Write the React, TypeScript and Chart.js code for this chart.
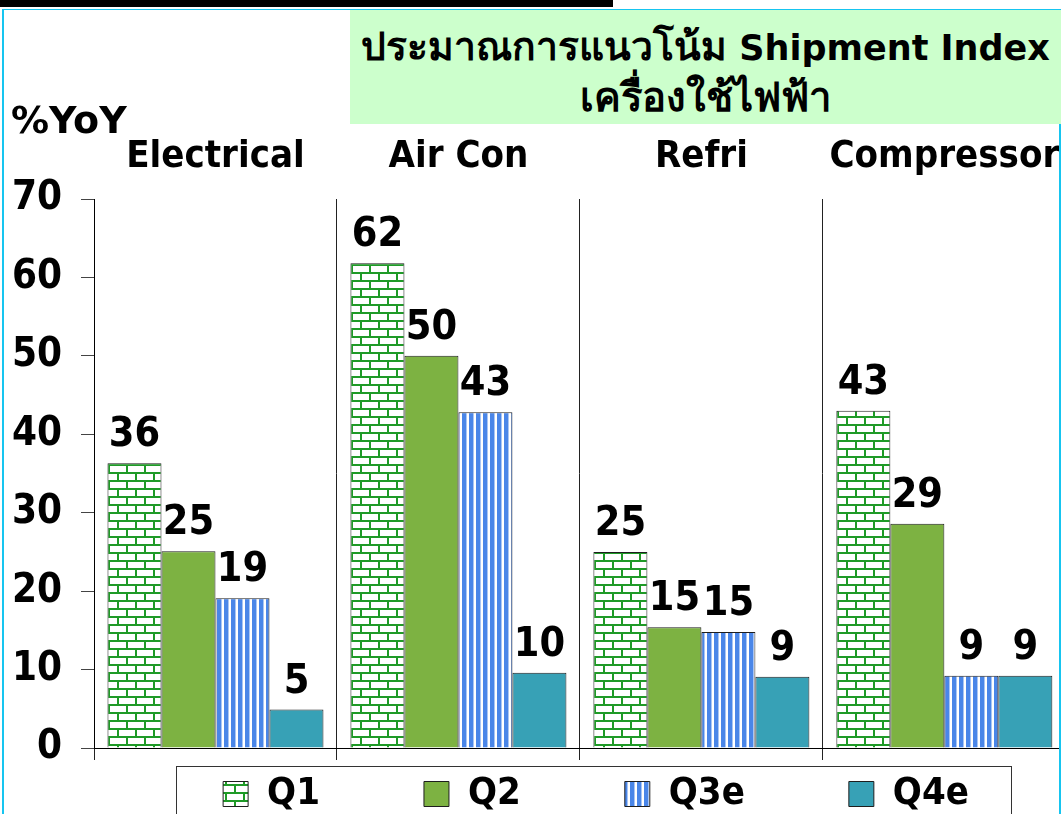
import React, { useEffect, useRef } from 'react';
import { Chart, registerables } from 'chart.js';

Chart.register(...registerables);

// ---------- data ----------
const categories = ['Electrical', 'Air Con', 'Refri', 'Compressor'];
const seriesNames = ['Q1', 'Q2', 'Q3e', 'Q4e'];
const q1Values = [36.3, 61.8, 25.0, 43.0];
const q2Values = [25.1, 50.0, 15.4, 28.6];
const q3eValues = [19.1, 42.8, 14.8, 9.2];
const q4eValues = [4.9, 9.6, 9.1, 9.2];
const yMin = 0;
const yMax = 70;
const yStep = 10;
const titleThai1 = 'ประมาณการแนวโน้ม';
const titleLatin1 = 'Shipment Index';
const titleLine2 = 'เครื่องใช้ไฟฟ้า';
const unitLabel = '%YoY';

// ---------- styling ----------
const FONT = "'DejaVu Sans Condensed', 'DejaVu Sans', sans-serif";
const CANVAS_W = 1080;
const CANVAS_H = 814;
const LEGEND_CENTER = 596;
const LEGEND_ROW_MID = 794;
const LEGEND_PAD = 104;
const LEGEND_FONT = 38;

function brickPattern(ctx: CanvasRenderingContext2D) {
  const c = document.createElement('canvas');
  c.width = 18;
  c.height = 16;
  const g = c.getContext('2d')!;
  g.fillStyle = '#ffffff';
  g.fillRect(0, 0, 18, 16);
  g.fillStyle = '#1f9a27';
  g.fillRect(0, 0, 18, 2);
  g.fillRect(0, 8, 18, 2);
  g.fillRect(0, 0, 2, 8);
  g.fillRect(9, 8, 2, 8);
  return ctx.createPattern(c, 'repeat')!;
}

function stripePattern(ctx: CanvasRenderingContext2D) {
  const c = document.createElement('canvas');
  c.width = 7;
  c.height = 4;
  const g = c.getContext('2d')!;
  g.fillStyle = '#ffffff';
  g.fillRect(0, 0, 7, 4);
  g.fillStyle = '#4a86e8';
  g.fillRect(0, 0, 4, 4);
  g.fillStyle = '#a9c5f3';
  g.fillRect(4, 0, 1, 4);
  return ctx.createPattern(c, 'repeat')!;
}

const valueLabels = {
  id: 'valueLabels',
  afterDatasetsDraw(chart: any) {
    const ctx = chart.ctx as CanvasRenderingContext2D;
    ctx.save();
    ctx.font = `bold 41px ${FONT}`;
    ctx.fillStyle = '#000';
    ctx.textAlign = 'center';
    ctx.textBaseline = 'alphabetic';
    chart.data.datasets.forEach((ds: any, i: number) => {
      const meta = chart.getDatasetMeta(i);
      meta.data.forEach((el: any, j: number) => {
        const v = ds.data[j] as number;
        ctx.fillText(String(Math.round(v)), el.x, el.y - 17);
      });
    });
    ctx.restore();
  },
};

const legendPlace = {
  id: 'legendPlace',
  afterUpdate(chart: any) {
    const lg = chart.legend;
    if (!lg) return;
    const w = lg.right - lg.left;
    lg.left = LEGEND_CENTER - w / 2;
    lg.right = lg.left + w;
    lg.top = LEGEND_ROW_MID - LEGEND_PAD - LEGEND_FONT / 2;
    lg.bottom = CANVAS_H + 100;
    lg.height = lg.bottom - lg.top;
  },
  afterDraw(chart: any) {
    const ctx = chart.ctx as CanvasRenderingContext2D;
    ctx.save();
    ctx.strokeStyle = '#333';
    ctx.lineWidth = 1;
    ctx.strokeRect(176.5, 766.5, 835, 200);
    ctx.restore();
  },
};

export default function App() {
  const ref = useRef<HTMLCanvasElement | null>(null);

  useEffect(() => {
    const canvas = ref.current!;
    const ctx = canvas.getContext('2d')!;
    const chart = new Chart(ctx, {
      type: 'bar',
      data: {
        labels: categories,
        datasets: [
          { label: seriesNames[0], data: q1Values, backgroundColor: brickPattern(ctx), borderColor: '#1e1e1e', borderWidth: 1 },
          { label: seriesNames[1], data: q2Values, backgroundColor: '#7db242', borderColor: '#1e1e1e', borderWidth: 1 },
          { label: seriesNames[2], data: q3eValues, backgroundColor: stripePattern(ctx), borderColor: '#1e1e1e', borderWidth: 1 },
          { label: seriesNames[3], data: q4eValues, backgroundColor: '#37a1b6', borderColor: '#1e1e1e', borderWidth: 1 },
        ] as any,
      },
      options: {
        responsive: false,
        animation: false,
        events: [],
        layout: { padding: { left: 0, right: 14, top: 0, bottom: 0 } },
        datasets: { bar: { categoryPercentage: 0.889, barPercentage: 1.0 } } as any,
        plugins: {
          tooltip: { enabled: false },
          title: { display: false },
          legend: {
            position: 'bottom',
            maxHeight: 54,
            labels: {
              boxWidth: 25,
              boxHeight: 25,
              padding: LEGEND_PAD,
              color: '#000',
              font: { family: FONT, size: LEGEND_FONT, weight: 'bold' },
            },
          },
        },
        scales: {
          x: {
            type: 'category',
            position: 'bottom',
            offset: true,
            grid: {
              offset: true,
              drawOnChartArea: true,
              drawTicks: true,
              tickLength: 12,
              color: '#222',
              lineWidth: 1,
            },
            border: { display: true, color: '#000', width: 1 },
            ticks: { display: false },
            afterFit(scale: any) {
              scale.height = 12;
            },
          },
          x2: {
            type: 'category',
            position: 'top',
            labels: categories,
            offset: true,
            grid: { display: false, drawTicks: false },
            border: { display: false },
            ticks: {
              color: '#000',
              padding: 19,
              maxRotation: 0,
              autoSkip: false,
              font: { family: FONT, size: 38, weight: 'bold' },
            },
            afterFit(scale: any) {
              scale.height = 199;
            },
          },
          y: {
            type: 'linear',
            min: yMin,
            max: yMax,
            ticks: {
              stepSize: yStep,
              color: '#000',
              padding: 19,
              font: { family: FONT, size: 40, weight: 'bold' },
            },
            grid: {
              drawOnChartArea: false,
              drawTicks: true,
              tickLength: 13,
              color: '#444',
            },
            border: { display: true, color: '#000', width: 1 },
            afterFit(scale: any) {
              scale.width = 94;
            },
          },
        } as any,
      },
      plugins: [valueLabels, legendPlace],
    });
    return () => chart.destroy();
  }, []);

  const cyan = '#16c5f0';
  return (
    <div style={{ position: 'fixed', left: 0, top: 0, width: 1061, height: 814, overflow: 'hidden', background: '#fff' }}>
      <canvas ref={ref} width={CANVAS_W} height={CANVAS_H} style={{ position: 'absolute', left: 0, top: 0, width: CANVAS_W, height: CANVAS_H }} />
      <div style={{ position: 'absolute', left: 0, top: 0, width: 613, height: 7, background: '#000' }} />
      <div
        style={{
          position: 'absolute',
          left: 2,
          top: 9,
          width: 1055,
          height: 900,
          borderLeft: `2px solid ${cyan}`,
          borderTop: `1px solid ${cyan}`,
          borderRight: `2px solid ${cyan}`,
          pointerEvents: 'none',
        }}
      />
      <div
        style={{
          position: 'absolute',
          left: 350,
          top: 10,
          width: 711,
          height: 114,
          background: '#ccffcc',
          boxSizing: 'border-box',
          paddingTop: 12,
          textAlign: 'center',
          fontFamily: "Tahoma, 'DejaVu Sans', 'Noto Sans', sans-serif",
          fontWeight: 'bold',
          fontSize: 35,
          lineHeight: '49px',
          color: '#000',
          whiteSpace: 'nowrap',
        }}
      >
        <div>
          <span style={{ fontSize: 39 }}>{titleThai1}</span> {titleLatin1}
        </div>
        <div style={{ fontSize: 40 }}>{titleLine2}</div>
      </div>
      <div
        style={{
          position: 'absolute',
          left: 11,
          top: 101,
          fontFamily: "'DejaVu Sans', sans-serif",
          fontWeight: 'bold',
          fontSize: 38,
          lineHeight: 1,
          color: '#000',
          whiteSpace: 'nowrap',
        }}
      >
        {unitLabel}
      </div>
    </div>
  );
}
